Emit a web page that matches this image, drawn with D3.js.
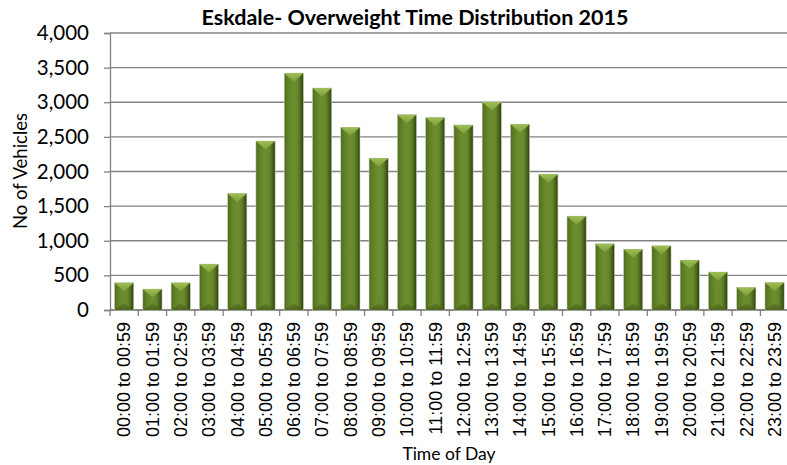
<!DOCTYPE html>
<html>
<head>
<meta charset="utf-8">
<script src="https://cdn.jsdelivr.net/npm/d3@7"></script>
<style>
  html, body { margin: 0; padding: 0; background: #ffffff; }
  svg { display: block; }
</style>
</head>
<body>
<svg id="chart" width="787" height="465"></svg>
<script>
// Hourly counts of overweight vehicles at Eskdale, 2015
const hours = [
  "00:00 to 00:59", "01:00 to 01:59", "02:00 to 02:59", "03:00 to 03:59",
  "04:00 to 04:59", "05:00 to 05:59", "06:00 to 06:59", "07:00 to 07:59",
  "08:00 to 08:59", "09:00 to 09:59", "10:00 to 10:59", "11:00 to 11:59",
  "12:00 to 12:59", "13:00 to 13:59", "14:00 to 14:59", "15:00 to 15:59",
  "16:00 to 16:59", "17:00 to 17:59", "18:00 to 18:59", "19:00 to 19:59",
  "20:00 to 20:59", "21:00 to 21:59", "22:00 to 22:59", "23:00 to 23:59"
];
const vehicles = [
  392, 302, 392, 662, 1682, 2440, 3420, 3205,
  2638, 2192, 2820, 2778, 2672, 3002, 2682, 1960,
  1355, 955, 878, 926, 720, 548, 326, 396
];
const yTicks = [0, 500, 1000, 1500, 2000, 2500, 3000, 3500, 4000];

const titleText = "Eskdale- Overweight Time Distribution 2015";
const yTitle = "No of Vehicles";
const xTitle = "Time of Day";

const svg = d3.select("#chart");
const plot = { left: 110, right: 788.7, top: 33, bottom: 310 };
const gridColor = "#828282";
const uiFont = "Lato, 'Open Sans', sans-serif";
const catFont = "'Liberation Sans', Arial, sans-serif";

const x = d3.scaleBand()
  .domain(hours)
  .range([plot.left, plot.right])
  .paddingInner(0.32)
  .paddingOuter(0.16);

const y = d3.scaleLinear()
  .domain([0, 4000])
  .range([plot.bottom, plot.top]);

// gradients for the bevelled bars
const defs = svg.append("defs");
const body = defs.append("linearGradient").attr("id", "barBody")
  .attr("x1", "0").attr("x2", "1").attr("y1", "0").attr("y2", "0");
[["0%", "#4f6b1c"], ["18%", "#5f7f25"], ["45%", "#6d8e2f"], ["70%", "#66872b"], ["86%", "#4b661b"], ["100%", "#2c3c0c"]]
  .forEach(([o, c]) => body.append("stop").attr("offset", o).attr("stop-color", c));
const cap = defs.append("linearGradient").attr("id", "barCap")
  .attr("x1", "0").attr("x2", "0").attr("y1", "0").attr("y2", "1");
[["0%", "#9dbd55"], ["100%", "#7f9f3b"]]
  .forEach(([o, c]) => cap.append("stop").attr("offset", o).attr("stop-color", c));
const base = defs.append("linearGradient").attr("id", "barBase")
  .attr("x1", "0").attr("x2", "0").attr("y1", "0").attr("y2", "1");
[["0%", "#5c7a24"], ["100%", "#3e5414"]]
  .forEach(([o, c]) => base.append("stop").attr("offset", o).attr("stop-color", c));

// horizontal gridlines
svg.append("g")
  .selectAll("line")
  .data(yTicks)
  .join("line")
  .attr("x1", plot.left).attr("x2", plot.right)
  .attr("y1", d => y(d)).attr("y2", d => y(d))
  .attr("stroke", gridColor).attr("stroke-width", 1.3);

// y axis
const yAxis = svg.append("g")
  .attr("transform", `translate(${plot.left},0)`)
  .call(d3.axisLeft(y).tickValues(yTicks).tickFormat(d3.format(",")).tickSize(6).tickPadding(15));
yAxis.select(".domain").attr("stroke", gridColor).attr("stroke-width", 1.3);
yAxis.selectAll(".tick line").attr("stroke", gridColor).attr("stroke-width", 1.3);
yAxis.selectAll(".tick text")
  .attr("font-family", uiFont).attr("font-size", 20.5).attr("fill", "#000");

// x axis line and category boundary ticks
const step = x.step();
const half = step * x.paddingInner() / 2;
const bounds = hours.map(h => x(h) - half).concat([x(hours[hours.length - 1]) + x.bandwidth() + half]);
svg.append("line")
  .attr("x1", plot.left).attr("x2", plot.right)
  .attr("y1", y(0)).attr("y2", y(0))
  .attr("stroke", gridColor).attr("stroke-width", 1.3);
svg.append("g")
  .selectAll("line")
  .data(bounds)
  .join("line")
  .attr("x1", d => d).attr("x2", d => d)
  .attr("y1", y(0)).attr("y2", y(0) + 6)
  .attr("stroke", gridColor).attr("stroke-width", 1.3);

// bars with a bevelled look: shaded body, light top facet, darker bottom facet
const data = hours.map((h, i) => ({ h, v: vehicles[i] }));
const bars = svg.append("g")
  .selectAll("g")
  .data(data)
  .join("g");

bars.append("rect")
  .attr("x", d => x(d.h))
  .attr("y", d => y(d.v))
  .attr("width", x.bandwidth())
  .attr("height", d => y(0) - y(d.v))
  .attr("fill", "url(#barBody)")
  .attr("stroke", "#c9cfbd")
  .attr("stroke-width", 0.6);

const facet = d => Math.min(x.bandwidth() * 0.44, (y(0) - y(d.v)) / 2);

bars.append("path")
  .attr("d", d => {
    const x0 = x(d.h), x1 = x0 + x.bandwidth(), xc = x0 + x.bandwidth() / 2, t = y(d.v);
    return `M${x0},${t}L${x1},${t}L${xc},${t + facet(d)}Z`;
  })
  .attr("fill", "url(#barCap)");

bars.append("path")
  .attr("d", d => {
    const x0 = x(d.h), x1 = x0 + x.bandwidth(), xc = x0 + x.bandwidth() / 2, b = y(0);
    return `M${x0},${b}L${x1},${b}L${xc},${b - facet(d) * 0.8}Z`;
  })
  .attr("fill", "url(#barBase)")
  .attr("opacity", 0.7);

// category labels, rotated
svg.append("g")
  .selectAll("text")
  .data(hours)
  .join("text")
  .attr("transform", d => `translate(${x(d) + x.bandwidth() / 2},322) rotate(-90)`)
  .attr("dy", "0.35em")
  .attr("text-anchor", "end")
  .attr("font-family", catFont)
  .attr("font-size", 18)
  .attr("fill", "#000")
  .text(d => d);

// titles
svg.append("text")
  .attr("x", 415).attr("y", 25)
  .attr("text-anchor", "middle")
  .attr("font-family", uiFont).attr("font-weight", "bold").attr("font-size", 21.5)
  .attr("fill", "#000")
  .text(titleText);

svg.append("text")
  .attr("transform", "translate(27,171) rotate(-90)")
  .attr("text-anchor", "middle")
  .attr("font-family", uiFont).attr("font-size", 18.5)
  .attr("fill", "#000")
  .text(yTitle);

svg.append("text")
  .attr("x", 449).attr("y", 460)
  .attr("text-anchor", "middle")
  .attr("font-family", uiFont).attr("font-size", 17.5)
  .attr("fill", "#000")
  .text(xTitle);
</script>
</body>
</html>
